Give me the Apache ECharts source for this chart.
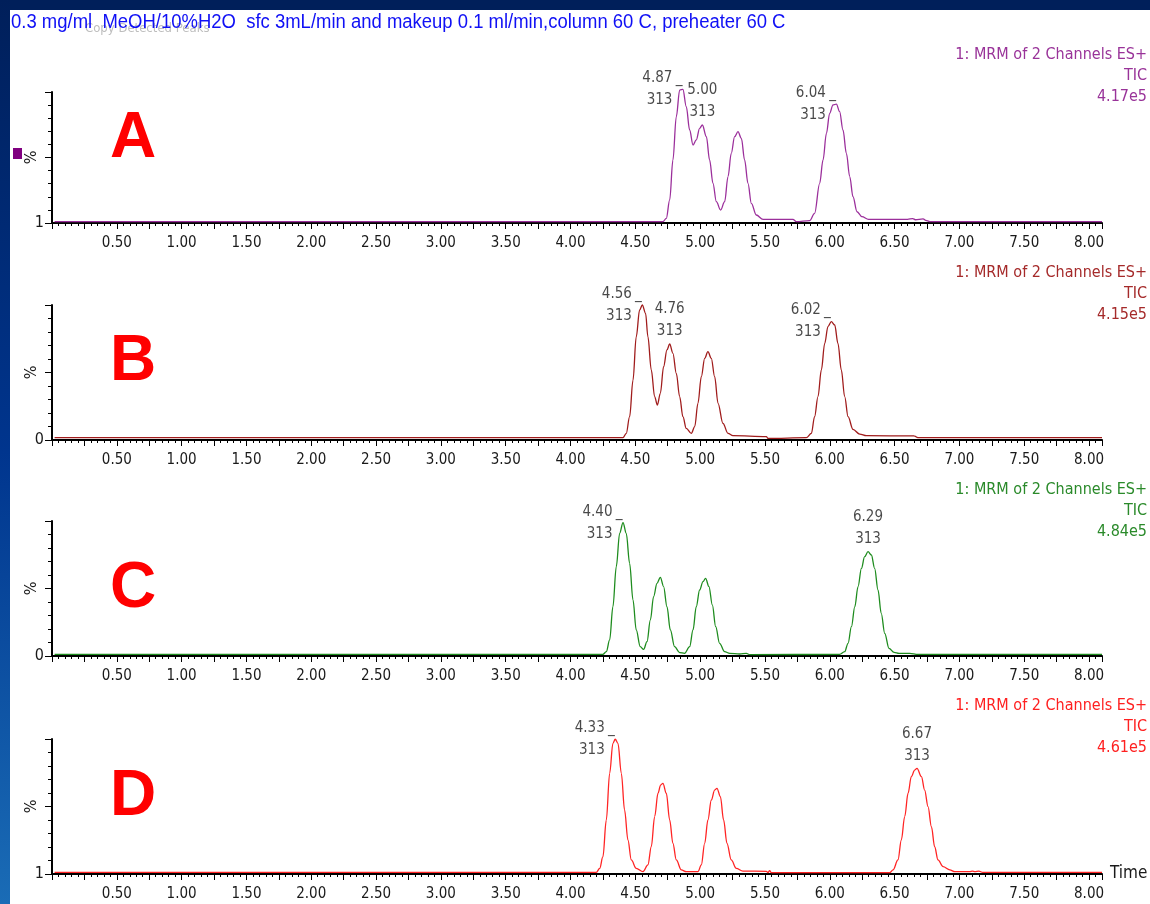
<!DOCTYPE html>
<html><head><meta charset="utf-8">
<script src="https://cdn.jsdelivr.net/npm/echarts@6/dist/echarts.min.js"></script>
<style>html,body{margin:0;padding:0;background:#fff;}#c{width:1150px;height:904px;}</style>
</head><body><div id="c"></div>
<script>
// ---------------- DATA ----------------
const titleText = '0.3 mg/ml  MeOH/10%H2O  sfc 3mL/min and makeup 0.1 ml/min,column 60 C, preheater 60 C';
const ghostText = 'Copy Detected Peaks';
const panelLetters = ['A', 'B', 'C', 'D'];
const channelText = '1: MRM of 2 Channels ES+';
const ticText = 'TIC';
const intensities = ['4.17e5', '4.15e5', '4.84e5', '4.61e5'];
const baselineLabels = ['1', '0', '0', '1'];
const xTickLabels = ['0.50','1.00','1.50','2.00','2.50','3.00','3.50','4.00','4.50','5.00','5.50','6.00','6.50','7.00','7.50','8.00'];
const xAxisName = 'Time';
const yAxisName = '%';

// [time (min), intensity (%)]
const traceA = [[0.02,1.0],[4.713,1.0],[4.739,3.6],[4.765,17.6],[4.790,48.1],[4.816,81.2],[4.842,101.5],[4.867,102.0],[4.893,88.8],[4.919,71.0],[4.945,59.5],[4.970,63.4],[4.996,72.3],[5.017,74.8],[5.048,65.9],[5.073,48.1],[5.099,30.3],[5.125,16.3],[5.158,9.9],[5.189,16.3],[5.215,35.4],[5.240,53.2],[5.266,65.9],[5.292,69.7],[5.318,64.6],[5.343,48.1],[5.369,30.3],[5.395,15.0],[5.433,6.1],[5.485,2.8],[5.716,2.8],[5.742,1.0],[5.845,1.8],[5.883,7.4],[5.922,30.3],[5.948,48.1],[5.974,68.4],[5.999,83.7],[6.025,90.1],[6.051,90.8],[6.076,85.0],[6.102,71.0],[6.128,53.2],[6.154,35.4],[6.179,20.1],[6.210,8.6],[6.248,4.8],[6.299,2.8],[6.600,2.8],[6.640,3.4],[6.660,2.5],[6.720,3.2],[6.740,2.0],[6.780,1.0],[8.1,1.0]];
const traceB = [[0.02,1.7],[4.405,1.7],[4.430,4.9],[4.456,17.3],[4.482,44.4],[4.507,76.5],[4.533,96.3],[4.554,100.0],[4.579,93.8],[4.597,76.5],[4.623,51.9],[4.649,32.1],[4.670,25.9],[4.693,34.6],[4.718,54.3],[4.744,66.7],[4.765,71.1],[4.790,64.2],[4.816,49.4],[4.842,32.1],[4.867,17.3],[4.893,8.6],[4.932,4.9],[4.958,9.9],[4.983,27.2],[5.009,46.9],[5.035,60.5],[5.060,65.4],[5.086,60.5],[5.112,46.9],[5.138,27.2],[5.176,12.3],[5.215,4.9],[5.253,3.2],[5.511,2.5],[5.523,1.2],[5.819,1.7],[5.858,4.9],[5.883,17.3],[5.909,32.1],[5.935,51.9],[5.961,71.6],[5.986,84.0],[6.012,87.7],[6.038,85.2],[6.063,71.6],[6.089,51.9],[6.115,32.1],[6.141,17.3],[6.179,7.9],[6.231,4.4],[6.282,3.2],[6.650,3.0],[6.680,1.7],[8.1,1.7]];
const traceC = [[0.02,1.2],[4.250,1.2],[4.276,3.2],[4.302,11.9],[4.327,36.5],[4.353,66.2],[4.379,90.9],[4.405,98.8],[4.430,90.9],[4.456,68.6],[4.482,41.5],[4.507,19.3],[4.538,6.9],[4.564,4.9],[4.590,10.6],[4.616,26.7],[4.641,44.0],[4.667,53.8],[4.693,58.3],[4.718,51.4],[4.744,36.5],[4.770,19.3],[4.803,6.9],[4.842,2.5],[4.880,2.0],[4.919,6.9],[4.945,19.3],[4.970,36.5],[4.996,48.9],[5.022,55.1],[5.042,57.5],[5.068,51.4],[5.094,37.8],[5.120,21.7],[5.150,9.4],[5.189,3.2],[5.228,2.0],[5.305,1.5],[5.356,2.0],[5.382,1.0],[6.076,1.2],[6.115,3.2],[6.141,9.4],[6.167,21.7],[6.193,36.5],[6.218,51.4],[6.244,64.9],[6.269,73.6],[6.295,77.3],[6.321,74.8],[6.346,64.9],[6.372,48.9],[6.397,31.6],[6.424,16.8],[6.457,5.7],[6.496,2.7],[6.534,2.0],[6.617,2.0],[6.680,1.2],[8.1,1.2]];
const traceD = [[0.02,1.2],[4.199,1.2],[4.225,4.2],[4.250,12.8],[4.276,40.0],[4.302,74.6],[4.327,96.8],[4.345,99.8],[4.366,96.8],[4.392,74.6],[4.417,47.4],[4.443,25.2],[4.469,10.4],[4.507,4.2],[4.559,1.7],[4.597,6.7],[4.623,20.2],[4.649,42.5],[4.675,59.8],[4.695,65.9],[4.713,67.2],[4.739,59.8],[4.765,40.0],[4.790,22.7],[4.816,10.4],[4.855,3.0],[4.893,1.7],[4.983,1.7],[5.009,6.7],[5.035,22.7],[5.060,40.0],[5.086,54.8],[5.112,62.2],[5.130,63.5],[5.156,57.3],[5.181,40.0],[5.207,22.7],[5.240,10.4],[5.279,4.2],[5.330,2.2],[5.511,2.0],[5.523,1.0],[5.536,2.5],[5.549,1.0],[6.462,1.0],[6.488,3.0],[6.526,10.4],[6.552,25.2],[6.578,42.5],[6.604,59.8],[6.629,72.1],[6.655,77.0],[6.673,78.3],[6.707,72.1],[6.732,62.2],[6.758,49.9],[6.784,35.1],[6.809,20.2],[6.835,10.4],[6.874,5.4],[6.926,3.0],[6.965,1.7],[7.080,1.7],[7.100,2.2],[7.120,1.7],[7.150,2.2],[7.180,1.2],[8.1,1.2]];

const peakTimesA = ['4.87', '5.00', '6.04'];
const peakTimesB = ['4.56', '4.76', '6.02'];
const peakTimesC = ['4.40', '6.29'];
const peakTimesD = ['4.33', '6.67'];
const peakMass = '313';

// ---------------- STYLE / LAYOUT ----------------
const NARROW = "'Liberation Sans Narrow','Arial Narrow','DejaVu Sans Condensed',sans-serif";
const traceColors = ['#9b2f9b', '#a01c1c', '#1e8c1e', '#ff2424'];
const headColors = ['#993399', '#a52a2a', '#2a8a2a', '#ff2020'];
const gridTops = [92, 305, 521, 739];
const gridHeights = [131, 135, 135, 135];
const headTops = [44, 262, 479, 695];
const letterCenters = [139, 362, 589, 797];
// label placement: 'side' (left of apex with tick), 'top' (above apex)
const placements = [['side','top','side'], ['side','top','side'], ['side','top'], ['side','top']];

const traces = [traceA, traceB, traceC, traceD];
const peakTimes = [peakTimesA, peakTimesB, peakTimesC, peakTimesD];

function apexFor(trace, label) {
  const T = parseFloat(label);
  let best = null;
  trace.forEach(p => { if (Math.abs(p[0] - T) <= 0.04 && (!best || p[1] > best[1])) best = p; });
  return best;
}

const chart = echarts.init(document.getElementById('c'), null, {renderer: 'canvas'});
const grids = [], xAxes = [], yAxes = [], series = [];
const numStyle = {fontFamily: NARROW, fontSize: 15, color: '#1a1a1a', lineHeight: 22};

for (let i = 0; i < 4; i++) {
  grids.push({left: 52, right: 48, top: gridTops[i], height: gridHeights[i], containLabel: false});
  xAxes.push({
    gridIndex: i, type: 'value', min: 0, max: 8.1, interval: 0.25,
    name: i === 3 ? xAxisName : '', nameLocation: 'end', nameGap: 8,
    nameTextStyle: {fontFamily: NARROW, fontSize: 17, color: '#1a1a1a', verticalAlign: 'middle'},
    axisLine: {show: true, onZero: false, lineStyle: {color: '#000', width: 2}},
    axisTick: {show: true, length: 6, lineStyle: {color: '#000', width: 1}},
    minorTick: {show: true, splitNumber: 5, length: 3, lineStyle: {color: '#000', width: 1}},
    splitLine: {show: false}, minorSplitLine: {show: false},
    axisLabel: {
      margin: 13, fontFamily: NARROW, fontSize: 15, color: '#1a1a1a',
      formatter: v => { const k = Math.round(v / 0.5); return (Math.abs(v - k * 0.5) < 1e-6 && k >= 1) ? (xTickLabels[k - 1] || '') : ''; }
    }
  });
  yAxes.push({
    gridIndex: i, type: 'value', min: 0, max: 100, interval: 50,
    name: yAxisName, nameLocation: 'middle', nameGap: 12, nameRotate: 90, nameMoveOverlap: false,
    nameTextStyle: {fontFamily: NARROW, fontSize: 16, color: '#1a1a1a'},
    axisLine: {show: true, lineStyle: {color: '#000', width: 2}},
    axisTick: {show: true, length: 7, lineStyle: {color: '#000', width: 1}},
    minorTick: {show: true, splitNumber: 5, length: 4, lineStyle: {color: '#000', width: 1}},
    splitLine: {show: false}, minorSplitLine: {show: false},
    axisLabel: {margin: 8, fontFamily: NARROW, fontSize: 16, color: '#1a1a1a',
      formatter: v => v === 0 ? baselineLabels[i] : ''}
  });
  series.push({
    type: 'line', xAxisIndex: i, yAxisIndex: i, data: traces[i],
    showSymbol: false, symbol: 'none', smooth: 0.35, smoothMonotone: 'x', clip: false,
    lineStyle: {color: traceColors[i], width: 1.3}, animation: false, silent: true
  });
  // peak annotations as an invisible scatter anchored on the apex of each labelled peak
  const labelData = peakTimes[i].map((lab, j) => {
    const a = apexFor(traces[i], lab);
    const side = placements[i][j] === 'side';
    return {
      value: [a[0], a[1]],
      label: side ? {
        show: true, position: 'left', distance: 0,
        formatter: '{n|' + lab + '}{d|_}\n{n|' + peakMass + '}{s|}',
        rich: {n: numStyle, d: Object.assign({}, numStyle, {width: 10}), s: Object.assign({}, numStyle, {width: 10})}
      } : {
        show: true, position: 'top', distance: 1,
        formatter: '{n|' + lab + '}\n{n|' + peakMass + '}',
        rich: {n: numStyle}
      }
    };
  });
  series.push({
    type: 'scatter', xAxisIndex: i, yAxisIndex: i, data: labelData, clip: false,
    symbol: 'circle', symbolSize: 1, itemStyle: {color: 'rgba(0,0,0,0)'},
    silent: true, animation: false, z: 5
  });
}

const graphic = [
  {type: 'rect', shape: {x: 0, y: 0, width: 1150, height: 10}, style: {fill: '#001f5a'}, silent: true},
  {type: 'rect', shape: {x: 0, y: 0, width: 10, height: 904}, silent: true,
   style: {fill: new echarts.graphic.LinearGradient(0, 0, 0, 1, [
     {offset: 0, color: '#001f5a'}, {offset: 0.5, color: '#00358e'}, {offset: 1, color: '#1a6cb6'}])}},
  {type: 'text', x: 85, y: 29, silent: true, style: {text: ghostText, fill: '#bdbdbd', font: '13px ' + NARROW, verticalAlign: 'middle'}},
  {type: 'text', x: 11, y: 22, scaleX: 0.924, silent: true, style: {text: titleText, fill: '#1010f5', font: '20px "Liberation Sans", Arial, sans-serif', verticalAlign: 'middle'}},
  {type: 'rect', shape: {x: 13, y: 148, width: 9, height: 11}, style: {fill: '#800080'}, silent: true}
];
for (let i = 0; i < 4; i++) {
  graphic.push({type: 'text', x: 133, y: letterCenters[i], silent: true,
    style: {text: panelLetters[i], fill: '#ff0000', font: 'bold 64px "Liberation Sans", Arial, sans-serif', align: 'center', verticalAlign: 'middle'}});
  graphic.push({type: 'text', x: 1147, y: headTops[i], silent: true,
    style: {text: [channelText, ticText, intensities[i]].join('\n'), fill: headColors[i], font: '16px ' + NARROW, align: 'right', verticalAlign: 'top', lineHeight: 21}});
}

chart.setOption({
  animation: false, backgroundColor: '#ffffff',
  grid: grids, xAxis: xAxes, yAxis: yAxes, series: series, graphic: graphic
});
</script></body></html>
